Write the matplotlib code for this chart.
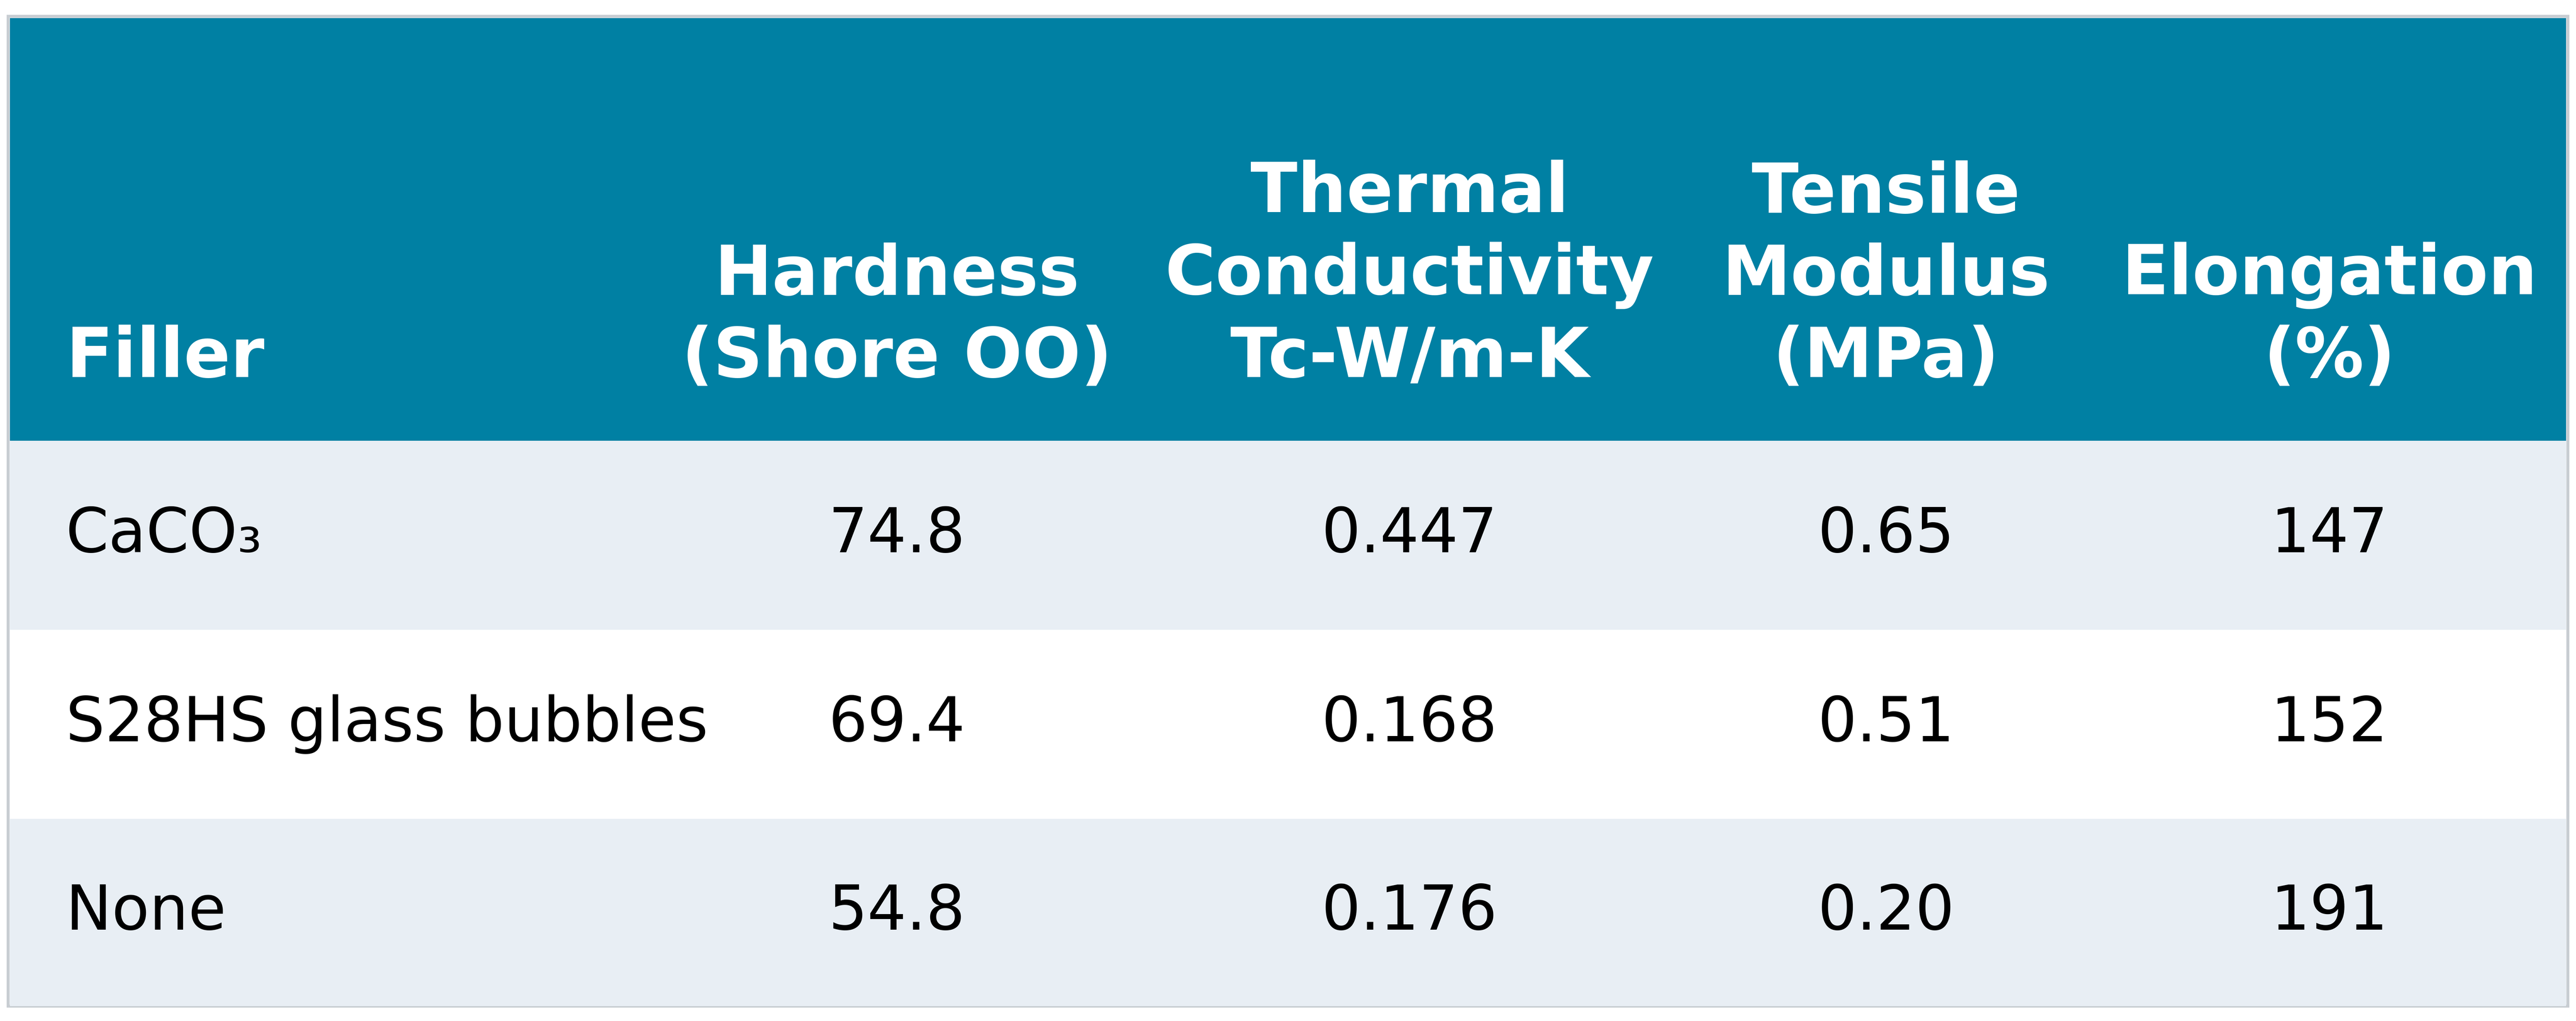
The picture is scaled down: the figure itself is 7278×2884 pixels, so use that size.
import matplotlib.pyplot as plt
from matplotlib.patches import Rectangle

headers = ["Filler", "Hardness\n(Shore OO)", "Thermal\nConductivity\nTc-W/m-K", "Tensile\nModulus\n(MPa)", "Elongation\n(%)"]
fillers = ["CaCO₃", "S28HS glass bubbles", "None"]
hardness = ["74.8", "69.4", "54.8"]
conductivity = ["0.447", "0.168", "0.176"]
modulus = ["0.65", "0.51", "0.20"]
elongation = ["147", "152", "191"]

W, H = 1568, 621
col_x = [40, 546, 858, 1148, 1418]
row_edges = [268, 383, 498, 612]
row_colors = ["#E8EEF4", "#FFFFFF", "#E8EEF4"]
teal = "#0080A3"
fam = ["DejaVu Sans Condensed", "Liberation Sans Narrow", "DejaVu Sans"]

fig = plt.figure(figsize=(72.78, 28.84), dpi=100)
ax = fig.add_axes([0, 0, 1, 1])
ax.set_xlim(0, W)
ax.set_ylim(H, 0)
ax.axis("off")

ax.add_patch(Rectangle((5, 10), 1558, 602, facecolor="white", edgecolor="#C8CDD2", lw=6))
ax.add_patch(Rectangle((6, 11), 1556, row_edges[0] - 11, facecolor=teal, edgecolor="none"))
for i in range(3):
    ax.add_patch(Rectangle((6, row_edges[i]), 1556, row_edges[i + 1] - row_edges[i],
                           facecolor=row_colors[i], edgecolor="none"))

for j, h in enumerate(headers):
    ax.text(col_x[j], 238, h, ha="left" if j == 0 else "center", va="bottom",
            fontsize=140, fontweight="bold", color="white", family=fam, linespacing=1.3)

cols = [fillers, hardness, conductivity, modulus, elongation]
for i in range(3):
    yc = (row_edges[i] + row_edges[i + 1]) / 2
    for j, c in enumerate(cols):
        ax.text(col_x[j], yc, c[i], ha="left" if j == 0 else "center", va="center",
                fontsize=125, color="black", family=fam)

fig.savefig("out.png", dpi=100)
